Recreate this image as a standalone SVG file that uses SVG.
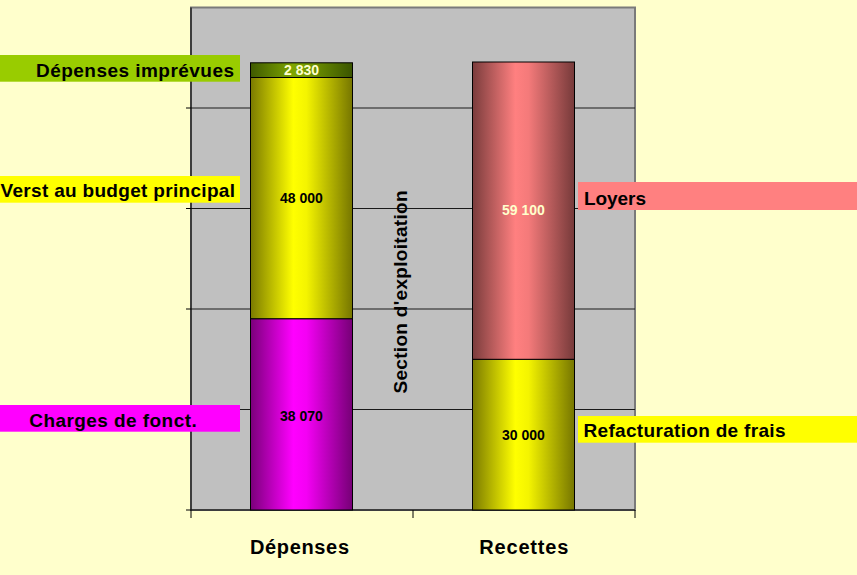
<svg xmlns="http://www.w3.org/2000/svg" width="857" height="575" viewBox="0 0 857 575">
<defs>
<linearGradient id="gY" x1="0" y1="0" x2="1" y2="0"><stop offset="0" stop-color="#7a7a00"/><stop offset="0.42" stop-color="#ffff00"/><stop offset="0.55" stop-color="#f4f400"/><stop offset="1" stop-color="#767600"/></linearGradient>
<linearGradient id="gM" x1="0" y1="0" x2="1" y2="0"><stop offset="0" stop-color="#7a007a"/><stop offset="0.42" stop-color="#ff00ff"/><stop offset="0.55" stop-color="#f400f4"/><stop offset="1" stop-color="#760076"/></linearGradient>
<linearGradient id="gP" x1="0" y1="0" x2="1" y2="0"><stop offset="0" stop-color="#7a3c3c"/><stop offset="0.42" stop-color="#ff8080"/><stop offset="0.55" stop-color="#f47a7a"/><stop offset="1" stop-color="#763a3a"/></linearGradient>
<linearGradient id="gG" x1="0" y1="0" x2="1" y2="0"><stop offset="0" stop-color="#3f5a00"/><stop offset="0.42" stop-color="#7fa600"/><stop offset="0.55" stop-color="#759a00"/><stop offset="1" stop-color="#3a5400"/></linearGradient>
</defs>
<style>
.t{font-family:"Liberation Sans",Arial,sans-serif;font-weight:bold;fill:#000}
.lab{font-size:19px}
.val{font-size:14px;text-anchor:middle}
.cr{fill:#ffffcc}
.seg{stroke:#000;stroke-width:1}
.grid{stroke:#1a1a1a;stroke-width:1}
.ax{stroke:#000;stroke-width:1}
</style>
<rect x="0" y="0" width="857" height="575" fill="#ffffcc"/>
<g id="plot">
<rect x="191" y="7.5" width="444" height="502.5" fill="#c0c0c0" stroke="#7a7a7a" stroke-width="2"/>
<line class="grid" x1="191" y1="108" x2="635" y2="108"/>
<line class="grid" x1="191" y1="208.5" x2="635" y2="208.5"/>
<line class="grid" x1="191" y1="309" x2="635" y2="309"/>
<line class="grid" x1="191" y1="409.5" x2="635" y2="409.5"/>
<line class="ax" x1="191" y1="7.5" x2="191" y2="518"/>
<line class="ax" x1="186" y1="510" x2="635" y2="510"/>
<line class="ax" x1="186" y1="108" x2="191" y2="108"/>
<line class="ax" x1="186" y1="208.5" x2="191" y2="208.5"/>
<line class="ax" x1="186" y1="309" x2="191" y2="309"/>
<line class="ax" x1="186" y1="409.5" x2="191" y2="409.5"/>
<line class="ax" x1="413" y1="510" x2="413" y2="518"/>
<line class="ax" x1="635" y1="510" x2="635" y2="518"/>
</g>
<g id="charges">
<rect class="seg" x="250.5" y="318.7" width="102" height="191.3" fill="url(#gM)"/>
<text class="t val" x="301.5" y="421">38 070</text>
</g>
<g id="verst">
<rect class="seg" x="250.5" y="77.5" width="102" height="241.2" fill="url(#gY)"/>
<text class="t val" x="301.5" y="203.3">48 000</text>
</g>
<g id="imprevues">
<rect class="seg" x="250.5" y="62.8" width="102" height="14.7" fill="url(#gG)"/>
<text class="t val cr" x="301.5" y="75.3">2 830</text>
</g>
<g id="refacturation">
<rect class="seg" x="472.5" y="359.3" width="102" height="150.7" fill="url(#gY)"/>
<text class="t val" x="523.5" y="440">30 000</text>
</g>
<g id="loyers">
<rect class="seg" x="472.5" y="62" width="102" height="297.3" fill="url(#gP)"/>
<text class="t val cr" x="523.5" y="215">59 100</text>
</g>
<g id="section">
<text class="t" font-size="19" transform="translate(406.5,393.5) rotate(-90)" textLength="203" lengthAdjust="spacing">Section d'exploitation</text>
</g>
<g id="label-imprevues">
<rect x="0" y="55" width="240" height="26.7" fill="#99cc00"/>
<text class="t lab" x="36" y="76.7" textLength="198" lengthAdjust="spacing">Dépenses imprévues</text>
</g>
<g id="label-verst">
<rect x="0" y="176" width="240" height="26.7" fill="#ffff00"/>
<text class="t lab" x="0.5" y="196.7" textLength="234.5" lengthAdjust="spacing">Verst au budget principal</text>
</g>
<g id="label-charges">
<rect x="0" y="405" width="240" height="26.7" fill="#ff00ff"/>
<text class="t lab" x="29.3" y="427" textLength="167.4" lengthAdjust="spacing">Charges de fonct.</text>
</g>
<g id="label-loyers">
<rect x="578" y="182" width="279" height="28" fill="#ff8080"/>
<text class="t lab" x="584" y="204.7" textLength="62" lengthAdjust="spacing">Loyers</text>
</g>
<g id="label-refacturation">
<rect x="578" y="416" width="279" height="26.7" fill="#ffff00"/>
<text class="t lab" x="583.5" y="437" textLength="202" lengthAdjust="spacing">Refacturation de frais</text>
</g>
<g id="cat-depenses">
<text class="t" font-size="20" x="250" y="554" textLength="99" lengthAdjust="spacing">Dépenses</text>
</g>
<g id="cat-recettes">
<text class="t" font-size="20" x="479.3" y="554" textLength="89" lengthAdjust="spacing">Recettes</text>
</g>
</svg>
